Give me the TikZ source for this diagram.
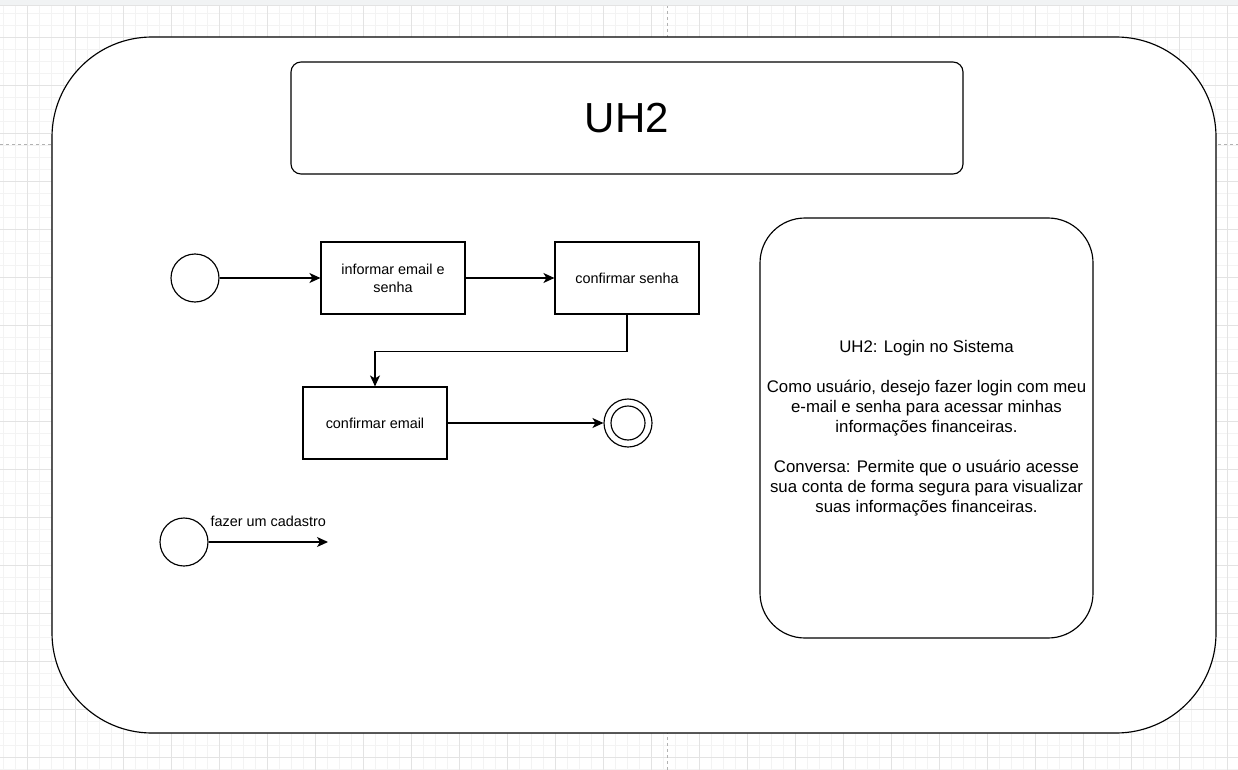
\documentclass[tikz,border=0pt]{standalone}
\usepackage{fontspec}
\setmainfont{Liberation Sans}
\usetikzlibrary{arrows.meta}
\definecolor{gridminor}{HTML}{F3F3F3}
\definecolor{gridmajor}{HTML}{E3E3E3}
\definecolor{bandgray}{HTML}{F1F3F4}
\newcommand{\boxFont}[0]{\fontsize{14.4}{18}\selectfont}
\newcommand{\noteFont}[0]{\fontsize{16.8}{20}\selectfont}

\begin{document}
\begin{tikzpicture}[x=1pt, y=-1pt, >={Stealth[length=11pt, width=10pt, inset=3pt]}]
  \tikzset{
    actbox/.style={draw, line width=1.15pt, minimum width=144pt, minimum height=72pt, align=center, font=\boxFont, inner sep=0pt},
    startnode/.style={draw, circle, line width=1.15pt, minimum size=48pt, inner sep=0pt},
    endcore/.style={draw, circle, line width=1.15pt, minimum size=34pt, inner sep=0pt},
    flow/.style={->, line width=1.15pt}
  }
  \useasboundingbox (0,0) rectangle (1238,770);
  % canvas
  \fill[white] (0,0) rectangle (1238,770);
  \foreach \gx in {3,15,...,1238} \draw[gridminor] (\gx,5) -- (\gx,770);
  \foreach \gy in {13,25,...,770} \draw[gridminor] (0,\gy) -- (1238,\gy);
  \foreach \gx in {27,75,...,1238} \draw[gridmajor] (\gx,5) -- (\gx,770);
  \foreach \gy in {37,85,...,770} \draw[gridmajor] (0,\gy) -- (1238,\gy);
  \draw[gray!60, dashed] (0,144) -- (1238,144);
  \draw[gray!60, dashed] (667,5) -- (667,770);
  \fill[bandgray] (0,0) rectangle (1238,5);
  \draw[gridmajor] (0,5) -- (1238,5);

  % frames
  \node[draw, line width=1.15pt, fill=white, rounded corners=100pt, minimum width=1164pt, minimum height=696pt] (frame) at (634,385) {};
  \node[draw, line width=1.15pt, rounded corners=10pt, minimum width=672pt, minimum height=112pt, font=\fontsize{42}{48}\selectfont] (title) at (627,118) {UH2};
  \node[draw, line width=1.15pt, rounded corners=45pt, minimum width=333pt, minimum height=420pt, align=center, font=\noteFont] (story) at (926.5,428) {UH2: Login no Sistema\\ \mbox{}\\ Como usuário, desejo fazer login com meu\\ e-mail e senha para acessar minhas\\ informações financeiras.\\ \mbox{}\\ Conversa: Permite que o usuário acesse\\ sua conta de forma segura para visualizar\\ suas informações financeiras.};

  % activity flow
  \node[startnode] (start) at (195,278) {};
  \node[actbox] (informar) at (393,278) {informar email e\\senha};
  \node[actbox] (senha) at (627,278) {confirmar senha};
  \node[actbox] (email) at (375,423) {confirmar email};
  \node[startnode] (fim) at (628,423) {};
  \node[endcore] (fimcore) at (fim) {};
  \node[startnode] (cadastro) at (184,542) {};
  \coordinate (cadastroEnd) at (328,542);

  \draw[flow] (start) -- (informar);
  \draw[flow] (informar) -- (senha);
  \draw[flow] (senha.south) -- ++(0,37) -| (email.north);
  \draw[flow] (email) -- (fim);
  \draw[flow] (cadastro) -- node[above=11pt, font=\boxFont] {fazer um cadastro} (cadastroEnd);
\end{tikzpicture}
\end{document}
